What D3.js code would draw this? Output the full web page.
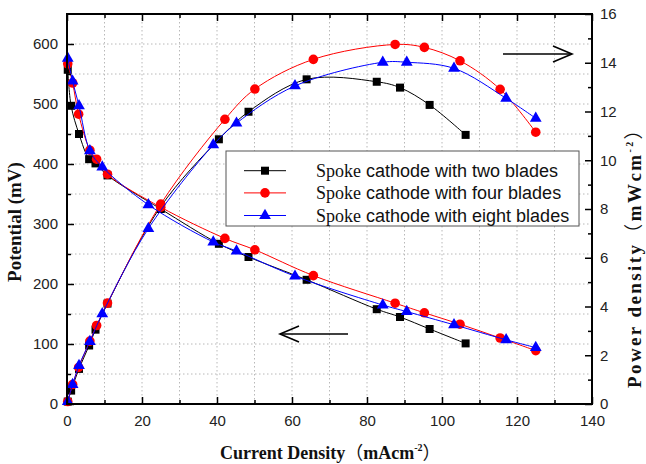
<!DOCTYPE html>
<html><head><meta charset="utf-8">
<script src="https://cdn.jsdelivr.net/npm/d3@7"></script>
<style>html,body{margin:0;padding:0;background:#fff;}svg{display:block;}</style>
</head><body>
<svg id="chart" width="646" height="464"></svg>
<script>
// ---- data ----
const seriesNames = ["Spoke cathode with two blades", "Spoke cathode with four blades", "Spoke cathode with eight blades"];
const xTwo   = [0.2, 1.1, 3.2, 5.9, 7.6, 10.8, 25, 40.5, 48.4, 63.9, 82.6, 88.8, 96.7, 106.3];
const potTwo = [557, 497, 450, 408, 401, 381, 325, 267, 245, 207, 158, 145, 125, 101];
const powTwo = [0.1, 0.55, 1.44, 2.4, 3.05, 4.12, 8.1, 10.86, 11.99, 13.32, 13.22, 12.98, 12.27, 11.04];
const xFour   = [0.2, 1.5, 3.1, 6.1, 7.9, 10.8, 25, 42.1, 50.1, 65.7, 87.5, 95.3, 104.8, 115.5, 125];
const potFour = [567, 535, 483, 423, 408, 383, 328, 276, 257, 214, 168, 152, 133, 110, 89];
const powFour = [0.1, 0.8, 1.5, 2.58, 3.22, 4.14, 8.2, 11.68, 12.92, 14.14, 14.75, 14.63, 14.08, 12.91, 11.15];
const xEight   = [0.2, 1.5, 3.2, 6.1, 9.4, 21.7, 39, 45.2, 60.8, 84.2, 90.6, 103.2, 117.1, 125];
const potEight = [576, 538, 497, 422, 395, 332, 270, 255, 213, 165, 154, 132, 107, 94];
const powEight = [0.1, 0.8, 1.58, 2.56, 3.7, 7.2, 10.63, 11.52, 13.05, 14.02, 14.02, 13.77, 12.54, 11.72];
const xTicks = [0, 20, 40, 60, 80, 100, 120, 140];
const yLeftTicks = [0, 100, 200, 300, 400, 500, 600];
const yRightTicks = [0, 2, 4, 6, 8, 10, 12, 14, 16];

// ---- layout ----
const L = 67, R = 592, T = 14, B = 404;
const svg = d3.select("#chart");
const x = d3.scaleLinear().domain([0, 140]).range([L, R]);
const yL = d3.scaleLinear().domain([0, 650]).range([B, T]);
const yR = d3.scaleLinear().domain([0, 16]).range([B, T]);

// grid
const grid = svg.append("g").attr("stroke", "#b8b8b8").attr("stroke-width", 1).attr("stroke-dasharray", "1.5,2.5");
d3.range(10, 140, 10).forEach(v => grid.append("line").attr("x1", x(v)).attr("x2", x(v)).attr("y1", T).attr("y2", B));
d3.range(50, 650, 50).forEach(v => grid.append("line").attr("x1", L).attr("x2", R).attr("y1", yL(v)).attr("y2", yL(v)));

const series = [
  {name: seriesNames[0], xs: xTwo, pot: potTwo, pow: powTwo, color: "#000000", shape: "square"},
  {name: seriesNames[1], xs: xFour, pot: potFour, pow: powFour, color: "#ff0000", shape: "circle"},
  {name: seriesNames[2], xs: xEight, pot: potEight, pow: powEight, color: "#0000ff", shape: "triangle"}
];

function marker(g, shape, color, cx, cy) {
  if (shape === "square") {
    g.append("rect").attr("x", cx - 4).attr("y", cy - 4).attr("width", 8).attr("height", 8).attr("fill", color);
  } else if (shape === "circle") {
    g.append("circle").attr("cx", cx).attr("cy", cy).attr("r", 4.8).attr("fill", color);
  } else {
    g.append("path").attr("d", d3.symbol(d3.symbolTriangle, 60)()).attr("transform", `translate(${cx},${cy})`).attr("fill", color);
  }
}

const plot = svg.append("g");
series.forEach(s => {
  const potPts = s.xs.map((v, i) => [x(v), yL(s.pot[i])]);
  const powPts = s.xs.map((v, i) => [x(v), yR(s.pow[i])]);
  const line = d3.line().curve(d3.curveCatmullRom.alpha(0.5));
  plot.append("path").attr("d", line(potPts)).attr("fill", "none").attr("stroke", s.color).attr("stroke-width", 1);
  plot.append("path").attr("d", line(powPts)).attr("fill", "none").attr("stroke", s.color).attr("stroke-width", 1);
  const mg = plot.append("g");
  potPts.forEach(p => marker(mg, s.shape, s.color, p[0], p[1]));
  powPts.forEach(p => marker(mg, s.shape, s.color, p[0], p[1]));
});

// axes
function styleAxis(g) {
  g.select(".domain").remove();
  g.selectAll(".tick line").attr("stroke", "#000").attr("stroke-width", 1.5);
  g.selectAll(".tick text").attr("font-family", "Liberation Sans, Arial, sans-serif").attr("font-size", 15).attr("fill", "#222");
}
svg.append("g").attr("transform", `translate(0,${B})`)
  .call(d3.axisBottom(x).tickValues(xTicks).tickSize(-7).tickPadding(11)).call(styleAxis);
svg.append("g").attr("transform", `translate(0,${B})`)
  .call(d3.axisBottom(x).tickValues(d3.range(10, 140, 20)).tickSize(-4).tickFormat("")).call(styleAxis);
svg.append("g").attr("transform", `translate(0,${T})`)
  .call(d3.axisTop(x).tickValues(xTicks).tickSize(-7).tickFormat("")).call(styleAxis);
svg.append("g").attr("transform", `translate(0,${T})`)
  .call(d3.axisTop(x).tickValues(d3.range(10, 140, 20)).tickSize(-4).tickFormat("")).call(styleAxis);
svg.append("g").attr("transform", `translate(${L},0)`)
  .call(d3.axisLeft(yL).tickValues(yLeftTicks).tickSize(-7).tickPadding(9)).call(styleAxis);
svg.append("g").attr("transform", `translate(${L},0)`)
  .call(d3.axisLeft(yL).tickValues(d3.range(50, 650, 100)).tickSize(-4).tickFormat("")).call(styleAxis);
svg.append("g").attr("transform", `translate(${R},0)`)
  .call(d3.axisRight(yR).tickValues(yRightTicks).tickSize(-7).tickPadding(8)).call(styleAxis);
svg.append("g").attr("transform", `translate(${R},0)`)
  .call(d3.axisRight(yR).tickValues(d3.range(1, 16, 2)).tickSize(-4).tickFormat("")).call(styleAxis);

// frame
svg.append("rect").attr("x", L).attr("y", T).attr("width", R - L).attr("height", B - T)
  .attr("fill", "none").attr("stroke", "#000").attr("stroke-width", 2);

// legend
const lg = svg.append("g");
lg.append("rect").attr("x", 226).attr("y", 151).attr("width", 353).attr("height", 75)
  .attr("fill", "#fff").attr("stroke", "#555").attr("stroke-width", 1);
const rowY = [170.7, 192.9, 215.5];
series.forEach((s, i) => {
  lg.append("line").attr("x1", 244).attr("x2", 286).attr("y1", rowY[i]).attr("y2", rowY[i]).attr("stroke", s.color).attr("stroke-width", 1);
  marker(lg, s.shape, s.color, 265, rowY[i]);
  const words = s.name.split(" ");
  const t = lg.append("text").attr("x", 316).attr("y", rowY[i] + 6).attr("font-size", 18).attr("fill", "#111");
  t.append("tspan").attr("font-family", "Liberation Serif, Times New Roman, serif").text(words[0]);
  t.append("tspan").attr("font-family", "Liberation Sans, Arial, sans-serif").text(" " + words.slice(1).join(" "));
});

// arrows
const arr = svg.append("g").attr("stroke", "#000").attr("stroke-width", 1.6).attr("fill", "none");
arr.append("line").attr("x1", 503).attr("x2", 572).attr("y1", 54).attr("y2", 54);
arr.append("polyline").attr("points", "553,46 572,54 553,62");
arr.append("line").attr("x1", 280).attr("x2", 348).attr("y1", 334).attr("y2", 334);
arr.append("polyline").attr("points", "299,326 280,334 299,342");

// axis titles
const serif = "Liberation Serif, Times New Roman, serif";
const xt = svg.append("text").attr("x", 220).attr("y", 459).attr("font-family", serif).attr("font-weight", "bold").attr("font-size", 18).attr("fill", "#111");
xt.append("tspan").text("Current Density");
xt.append("tspan").attr("font-family", "Noto Sans CJK SC, sans-serif").attr("font-weight", "normal").text("（");
xt.append("tspan").text("mAcm");
xt.append("tspan").attr("font-size", 10).attr("dy", -8).text("-2");
xt.append("tspan").attr("dy", 8).attr("font-family", "Noto Sans CJK SC, sans-serif").attr("font-weight", "normal").text("）");

svg.append("text").attr("transform", "translate(21,222) rotate(-90)").attr("text-anchor", "middle")
  .attr("font-family", serif).attr("font-weight", "bold").attr("font-size", 19).attr("fill", "#111").text("Potential (mV)");

const rt = svg.append("text").attr("transform", "translate(641,118) rotate(-90)").attr("text-anchor", "end")
  .attr("font-family", serif).attr("font-weight", "bold").attr("font-size", 19).attr("fill", "#111")
  .attr("letter-spacing", 2.4);
rt.append("tspan").text("Power density");
rt.append("tspan").attr("font-family", "Noto Sans CJK SC, sans-serif").attr("font-weight", "normal").text("（");
rt.append("tspan").text("mWcm");
rt.append("tspan").attr("font-size", 10).attr("dy", -8).text("-2");
rt.append("tspan").attr("dy", 8).attr("font-family", "Noto Sans CJK SC, sans-serif").attr("font-weight", "normal").text("）");
</script>
</body></html>
